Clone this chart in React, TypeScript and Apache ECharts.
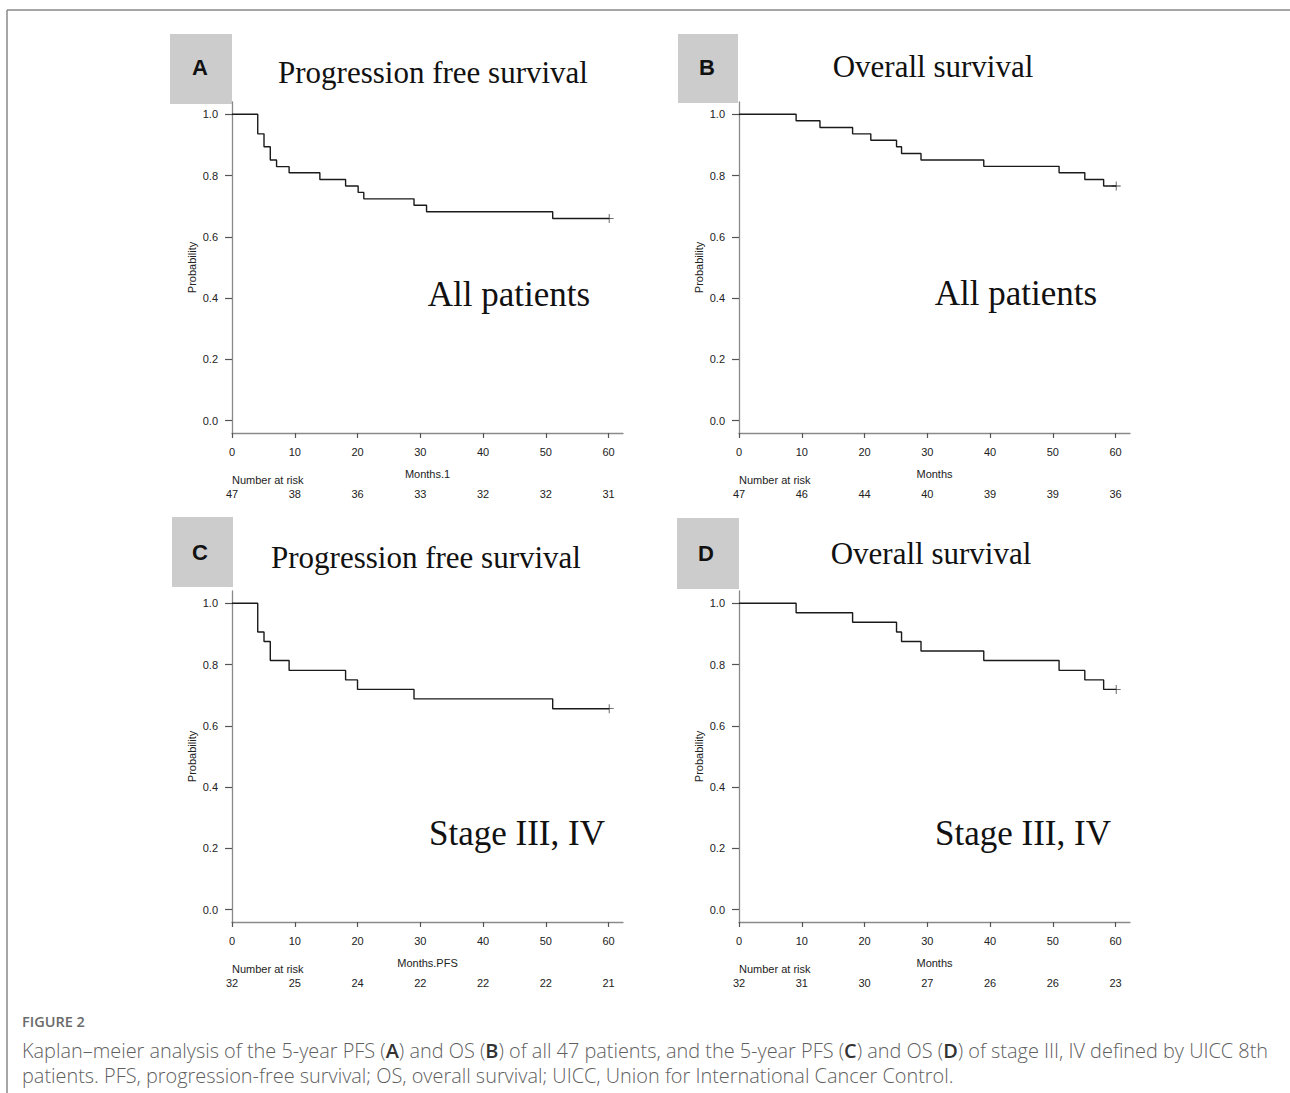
import React, { useEffect, useRef } from "react";
import * as echarts from "echarts";

// ---- data ----
const X_TICKS = [0, 10, 20, 30, 40, 50, 60];
const Y_TICKS = [0, 0.2, 0.4, 0.6, 0.8, 1.0];
const X_MAX = 62.3;
const Y_MIN = -0.04;
const Y_MAX = 1.04;

const pfsAllTimes = [0, 4.1, 5.1, 6.1, 7.1, 9.1, 14.0, 18.1, 20.1, 21.0, 29.0, 31.0, 51.1, 60.1];
const pfsAllValues = [1, 0.936, 0.894, 0.851, 0.829, 0.809, 0.787, 0.766, 0.745, 0.724, 0.703, 0.682, 0.66, 0.66];
const osAllTimes = [0, 9.1, 12.9, 18.1, 21.0, 25.1, 25.9, 29.0, 39.0, 51.0, 55.1, 58.1, 60.1];
const osAllValues = [1, 0.979, 0.957, 0.936, 0.915, 0.894, 0.872, 0.851, 0.83, 0.809, 0.787, 0.766, 0.766];
const pfsStageTimes = [0, 4.1, 5.1, 6.1, 9.1, 18.1, 20.0, 29.0, 51.1, 60.1];
const pfsStageValues = [1, 0.906, 0.875, 0.813, 0.781, 0.75, 0.719, 0.688, 0.656, 0.656];
const osStageTimes = [0, 9.1, 18.1, 25.1, 25.9, 29.0, 39.0, 51.0, 55.1, 58.1, 60.1];
const osStageValues = [1, 0.969, 0.938, 0.906, 0.875, 0.844, 0.813, 0.781, 0.75, 0.719, 0.719];

const riskPfsAll = [47, 38, 36, 33, 32, 32, 31];
const riskOsAll = [47, 46, 44, 40, 39, 39, 36];
const riskPfsStage = [32, 25, 24, 22, 22, 22, 21];
const riskOsStage = [32, 31, 30, 27, 26, 26, 23];

const panelLetters = ["A", "B", "C", "D"];
const panelTitles = ["Progression free survival", "Overall survival", "Progression free survival", "Overall survival"];
const panelSubtitles = ["All patients", "All patients", "Stage III, IV", "Stage III, IV"];
const xAxisNames = ["Months.1", "Months", "Months.PFS", "Months"];

const curves = [
  { times: pfsAllTimes, values: pfsAllValues, risk: riskPfsAll },
  { times: osAllTimes, values: osAllValues, risk: riskOsAll },
  { times: pfsStageTimes, values: pfsStageValues, risk: riskPfsStage },
  { times: osStageTimes, values: osStageValues, risk: riskOsStage },
];

// ---- layout ----
const GRIDS = [
  { left: 232, top: 102, width: 391, height: 331 },
  { left: 739, top: 102, width: 391, height: 331 },
  { left: 232, top: 591, width: 391, height: 331 },
  { left: 739, top: 591, width: 391, height: 331 },
];
const BOXES = [
  { x: 170, y: 34, w: 62, h: 70, lx: 200, ly: 67 },
  { x: 678, y: 34, w: 60, h: 69, lx: 707, ly: 67 },
  { x: 172, y: 517, w: 61, h: 70, lx: 200, ly: 552 },
  { x: 677, y: 518, w: 62, h: 71, lx: 706, ly: 553 },
];
const TITLE_POS = [
  { x: 433, y: 72 },
  { x: 933, y: 66 },
  { x: 426, y: 557 },
  { x: 931, y: 553 },
];
const SUB_POS = [
  { x: 509, y: 294 },
  { x: 1016, y: 293 },
  { x: 517, y: 833 },
  { x: 1023, y: 833 },
];

const SANS = "'Liberation Sans', Arial, sans-serif";
const SERIF = "'Liberation Serif', 'Times New Roman', serif";
const CAP = "'Open Sans', 'Noto Sans', sans-serif";
const PLUS = "path://M-1 -0.09 H1 V0.09 H-1 Z M-0.09 -1 H0.09 V1 H-0.09 Z";

export default function App() {
  const ref = useRef<HTMLDivElement>(null);

  useEffect(() => {
    document.body.style.margin = "0";
    if (!ref.current) return;
    const chart = echarts.init(ref.current, null, { renderer: "svg", width: 1290, height: 1093 });

    const xAxis: any[] = [];
    const yAxis: any[] = [];
    const series: any[] = [];
    const graphic: any[] = [];

    GRIDS.forEach((g, i) => {
      const c = curves[i];
      xAxis.push({
        type: "value",
        gridIndex: i,
        min: 0,
        max: X_MAX,
        position: "bottom",
        axisLine: { show: true, onZero: false, lineStyle: { color: "#8a8a8a", width: 1.3 } },
        axisTick: { show: true, length: 5, customValues: X_TICKS, lineStyle: { color: "#555", width: 1.2 } },
        axisLabel: { customValues: X_TICKS, margin: 13, fontSize: 11, color: "#222", fontFamily: SANS },
        splitLine: { show: false },
        name: xAxisNames[i],
        nameLocation: "middle",
        nameGap: 35,
        nameTextStyle: { fontSize: 11, color: "#222", fontFamily: SANS },
      });
      xAxis.push({
        type: "value",
        gridIndex: i,
        min: 0,
        max: X_MAX,
        position: "bottom",
        axisLine: { show: false, onZero: false },
        axisTick: { show: false },
        axisLabel: {
          customValues: X_TICKS,
          margin: 55,
          fontSize: 11,
          color: "#222",
          fontFamily: SANS,
          formatter: (v: number) => {
            const k = X_TICKS.indexOf(Math.round(v));
            return k >= 0 ? String(c.risk[k]) : "";
          },
        },
        splitLine: { show: false },
      });
      yAxis.push({
        type: "value",
        gridIndex: i,
        min: Y_MIN,
        max: Y_MAX,
        position: "left",
        axisLine: { show: true, onZero: false, lineStyle: { color: "#8a8a8a", width: 1.3 } },
        axisTick: { show: true, length: 7, customValues: Y_TICKS, lineStyle: { color: "#555", width: 1.2 } },
        axisLabel: {
          customValues: Y_TICKS,
          margin: 14,
          fontSize: 11,
          color: "#222",
          fontFamily: SANS,
          formatter: (v: number) => v.toFixed(1),
        },
        splitLine: { show: false },
        name: "Probability",
        nameLocation: "middle",
        nameRotate: 90,
        nameGap: 35,
        nameTextStyle: { fontSize: 11, color: "#222", fontFamily: SANS },
      });
      series.push({
        type: "line",
        xAxisIndex: i * 2,
        yAxisIndex: i,
        step: "end",
        symbol: "none",
        lineStyle: { color: "#1a1a1a", width: 1.4 },
        data: c.times.map((t, j) => [t, c.values[j]]),
        silent: true,
      });
      const last = c.times.length - 1;
      series.push({
        type: "scatter",
        xAxisIndex: i * 2,
        yAxisIndex: i,
        symbol: PLUS,
        symbolSize: 9,
        itemStyle: { color: "#1a1a1a" },
        data: [[c.times[last], c.values[last]]],
        silent: true,
      });

      const b = BOXES[i];
      graphic.push({ type: "rect", shape: { x: b.x, y: b.y, width: b.w, height: b.h }, style: { fill: "#cccccc" }, silent: true });
      graphic.push({
        type: "text",
        x: b.lx,
        y: b.ly,
        style: { text: panelLetters[i], font: `bold 22px ${SANS}`, fill: "#111", align: "center", verticalAlign: "middle" },
      });
      graphic.push({
        type: "text",
        x: TITLE_POS[i].x,
        y: TITLE_POS[i].y,
        style: { text: panelTitles[i], font: `31px ${SERIF}`, fill: "#111", align: "center", verticalAlign: "middle" },
      });
      graphic.push({
        type: "text",
        x: SUB_POS[i].x,
        y: SUB_POS[i].y,
        style: { text: panelSubtitles[i], font: `35px ${SERIF}`, fill: "#111", align: "center", verticalAlign: "middle" },
      });
      graphic.push({
        type: "text",
        x: g.left,
        y: g.top + g.height + 47,
        style: { text: "Number at risk", font: `11px ${SANS}`, fill: "#222", align: "left", verticalAlign: "middle" },
      });
    });

    // frame
    graphic.push({ type: "line", shape: { x1: 7, y1: 10, x2: 1290, y2: 10 }, style: { stroke: "#888", lineWidth: 1.5 } });
    graphic.push({ type: "line", shape: { x1: 7, y1: 10, x2: 7, y2: 1093 }, style: { stroke: "#888", lineWidth: 1.5 } });

    // caption
    graphic.push({
      type: "text",
      x: 22,
      y: 1021,
      style: { text: "FIGURE 2", font: `600 14.5px ${CAP}`, fill: "#6a6a6a", align: "left", verticalAlign: "middle" },
    });
    graphic.push({
      type: "text",
      x: 22,
      y: 1050,
      style: {
        text:
          "Kaplan\u2013meier analysis of the 5-year PFS ({b|A}) and OS ({b|B}) of all 47 patients, and the 5-year PFS ({b|C}) and OS ({b|D}) of stage III, IV defined by UICC 8th",
        font: `300 19.9px ${CAP}`,
        fill: "#5f5f5f",
        align: "left",
        verticalAlign: "middle",
        rich: { b: { font: `600 19.9px ${CAP}`, fill: "#333" } },
      },
    });
    graphic.push({
      type: "text",
      x: 22,
      y: 1075,
      style: {
        text: "patients. PFS, progression-free survival; OS, overall survival; UICC, Union for International Cancer Control.",
        font: `300 19.9px ${CAP}`,
        fill: "#5f5f5f",
        align: "left",
        verticalAlign: "middle",
      },
    });

    chart.setOption({
      animation: false,
      backgroundColor: "#ffffff",
      grid: GRIDS.map((g) => ({ ...g, containLabel: false })),
      xAxis,
      yAxis,
      series,
      graphic,
    });

    return () => chart.dispose();
  }, []);

  return <div ref={ref} style={{ width: 1290, height: 1093 }} />;
}
